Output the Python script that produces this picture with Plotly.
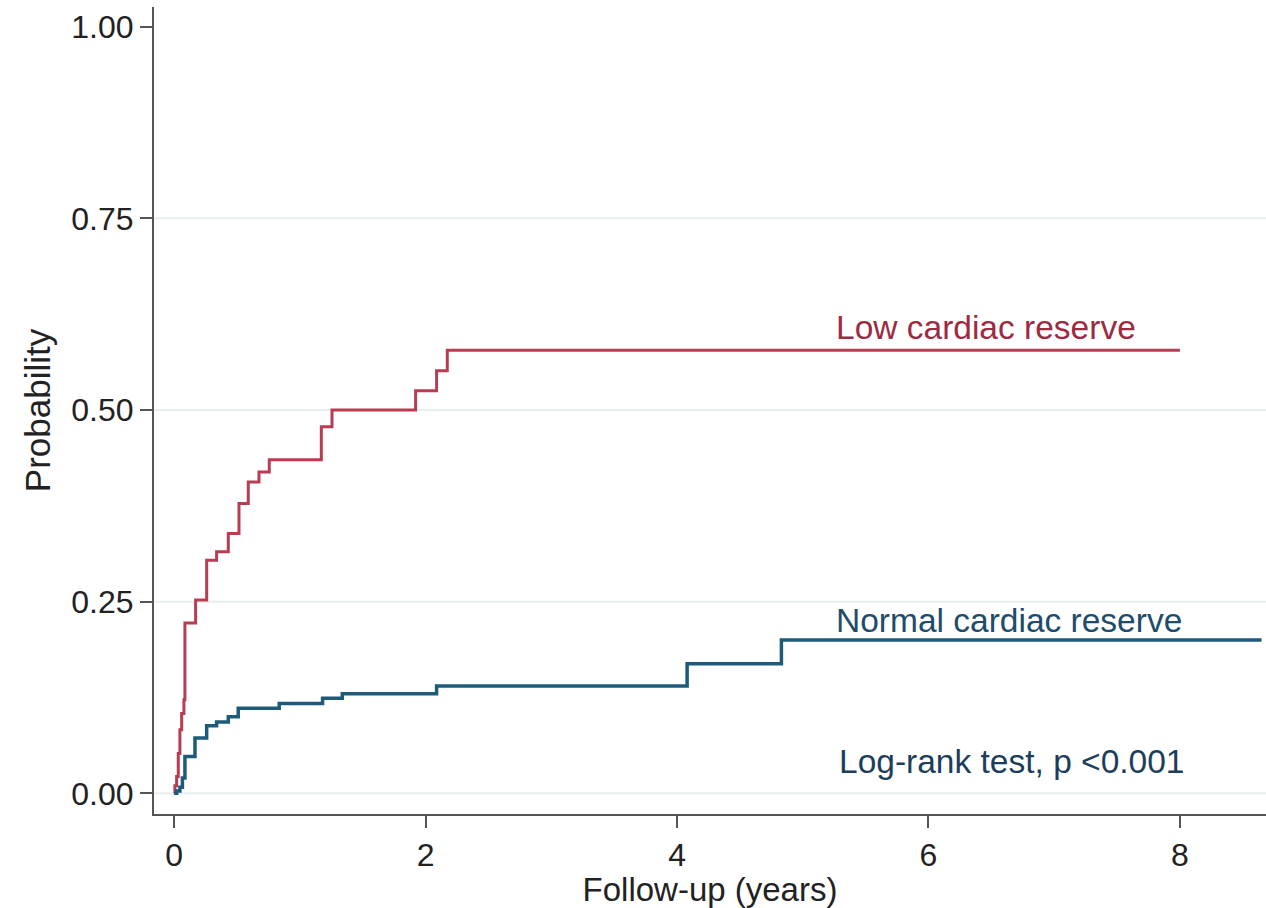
import plotly.graph_objects as go

# Cumulative incidence by cardiac reserve group (step estimates)
low_time = [0, 0.005, 0.019, 0.032, 0.045, 0.059, 0.077, 0.085, 0.170, 0.258,
            0.337, 0.430, 0.515, 0.589, 0.674, 0.756, 1.170, 1.255, 1.920,
            2.087, 2.172, 8.0]
low_prob = [0, 0.010, 0.022, 0.052, 0.083, 0.104, 0.122, 0.222, 0.252, 0.304,
            0.315, 0.339, 0.378, 0.406, 0.419, 0.435, 0.478, 0.500, 0.525,
            0.551, 0.578, 0.578]

normal_time = [0, 0.02, 0.045, 0.065, 0.085, 0.165, 0.258, 0.337, 0.430, 0.509,
               0.835, 1.180, 1.337, 2.087, 4.080, 4.830, 8.65]
normal_prob = [0, 0.003, 0.008, 0.020, 0.048, 0.072, 0.088, 0.093, 0.100, 0.111,
               0.117, 0.124, 0.130, 0.140, 0.169, 0.200, 0.200]

y_ticks = [0, 0.25, 0.5, 0.75, 1.0]
y_tick_text = ["0.00", "0.25", "0.50", "0.75", "1.00"]
x_ticks = [0, 2, 4, 6, 8]
grid_levels = [0, 0.25, 0.5, 0.75]

RED = "#b93d52"
BLUE = "#1e5b7b"
FONT = "Liberation Sans, Arial, Helvetica, sans-serif"

fig = go.Figure()

fig.add_trace(go.Scatter(
    x=low_time, y=low_prob, mode="lines", line=dict(color=RED, width=3, shape="hv"),
    showlegend=False, name="Low cardiac reserve"))
fig.add_trace(go.Scatter(
    x=normal_time, y=normal_prob, mode="lines", line=dict(color=BLUE, width=3.5, shape="hv"),
    showlegend=False, name="Normal cardiac reserve"))

for g in grid_levels:
    fig.add_shape(type="line", xref="paper", x0=0, x1=1, yref="y", y0=g, y1=g,
                  line=dict(color="#e6eff0", width=2), layer="below")

fig.add_annotation(x=5.25, y=0.608, text="Low cardiac reserve", showarrow=False,
                   xanchor="left", yanchor="middle",
                   font=dict(family=FONT, size=33.5, color="#9c2b42"))
fig.add_annotation(x=5.25, y=0.225, text="Normal cardiac reserve", showarrow=False,
                   xanchor="left", yanchor="middle",
                   font=dict(family=FONT, size=33.5, color="#1d4c6c"))
fig.add_annotation(x=5.27, y=0.041, text="Log-rank test, p <0.001", showarrow=False,
                   xanchor="left", yanchor="middle",
                   font=dict(family=FONT, size=33.5, color="#1c3e5c"))

fig.update_layout(
    width=1266, height=908,
    margin=dict(l=154, r=0, t=7, b=94),
    paper_bgcolor="white", plot_bgcolor="white",
    font=dict(family=FONT, size=32, color="#222222"),
    xaxis=dict(
        range=[-0.161, 8.685], tickvals=x_ticks, ticks="outside", ticklen=12,
        tickwidth=2, tickcolor="#555555", showline=True, linecolor="#555555",
        linewidth=2, showgrid=False, zeroline=False,
        title=dict(text="Follow-up (years)", standoff=2,
                   font=dict(family=FONT, size=33, color="#222222")),
        tickfont=dict(family=FONT, size=32, color="#222222"),
    ),
    yaxis=dict(
        range=[-0.027, 1.0256], tickvals=y_ticks, ticktext=y_tick_text,
        ticks="outside", ticklen=12, tickwidth=2, tickcolor="#555555",
        showline=True, linecolor="#555555", linewidth=2, showgrid=False,
        zeroline=False,
        title=dict(text="Probability", standoff=10,
                   font=dict(family=FONT, size=35, color="#222222")),
        tickfont=dict(family=FONT, size=32, color="#222222"),
    ),
)

fig.write_html("out.html")
